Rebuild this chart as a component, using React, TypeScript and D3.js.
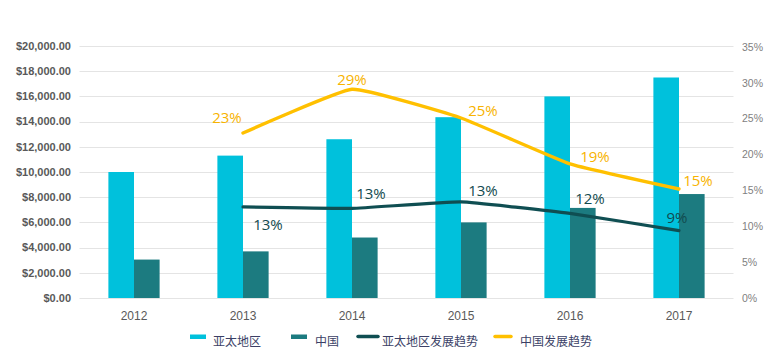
import React from "react";
import * as d3 from "d3";

const years = ["2012", "2013", "2014", "2015", "2016", "2017"];
const apacValues = [10000, 11300, 12600, 14350, 16000, 17500];
const chinaValues = [3050, 3700, 4800, 6000, 7150, 8250];
const apacGrowth = [null, 12.7, 12.5, 13.4, 11.8, 9.4];
const chinaGrowth = [null, 23, 29.1, 25.1, 18.7, 15.2];
const apacGrowthLabels = ["", "13%", "13%", "13%", "12%", "9%"];
const chinaGrowthLabels = ["", "23%", "29%", "25%", "19%", "15%"];
const leftTicks = [0, 2000, 4000, 6000, 8000, 10000, 12000, 14000, 16000, 18000, 20000];
const rightTicks = [0, 5, 10, 15, 20, 25, 30, 35];
const legendNames = ["亚太地区", "中国", "亚太地区发展趋势", "中国发展趋势"];

const C_APAC = "#00C1DC";
const C_CHINA = "#1C7B80";
const C_APAC_LINE = "#0F4E52";
const C_CHINA_LINE = "#FFC000";

export default function App() {
  const W = 775, H = 356;
  const x0 = 79.5, x1 = 733.5, yTop = 46, yBot = 298;
  const x = d3.scaleBand().domain(years).range([x0, x1]).paddingInner(0.53).paddingOuter(0.265);
  const y = d3.scaleLinear().domain([0, 20000]).range([yBot, yTop]);
  const y2 = d3.scaleLinear().domain([0, 35]).range([yBot, yTop + 1]);
  const bw = x.bandwidth() / 2;
  const cx = (yr: string) => (x(yr) as number) + x.bandwidth() / 2;
  const fmt = (v: number) => "$" + d3.format(",.2f")(v);
  const line = d3
    .line<[string, number | null]>()
    .defined((d) => d[1] != null)
    .x((d) => cx(d[0]))
    .y((d) => y2(d[1] as number))
    .curve(d3.curveCardinal.tension(0.65));

  const chinaLabelOff: [number, number][] = [[0, 0], [-16, -15], [0, -10], [22, -7], [25, -7], [19, -8]];
  const apacLabelOff: [number, number][] = [[0, 0], [25, 18], [19, -15], [22, -11], [20, -15], [-2, -13]];

  const font = "'Liberation Sans', Arial, sans-serif";
  const labelFont = "'Open Sans', 'Liberation Sans', sans-serif";

  const legendX = [190, 291, 358, 495];
  const legendTextX = [213, 315, 382, 520];
  const legendColors = [C_APAC, C_CHINA, C_APAC_LINE, C_CHINA_LINE];
  const swW = [16, 16, 20, 16];

  return (
    <svg width={W} height={H} style={{ position: "absolute", left: 0, top: 0, background: "#fff" }}>
      {leftTicks.map((t) => (
        <line key={"g" + t} x1={x0} x2={x1} y1={Math.round(y(t)) + 0.5} y2={Math.round(y(t)) + 0.5} stroke="#e4e4e4" strokeWidth={1} />
      ))}
      {leftTicks.map((t) => (
        <text key={"l" + t} x={71} y={y(t)} dy="0.35em" textAnchor="end" fontFamily={font} fontSize={11} fontWeight="bold" fill="#595959">
          {fmt(t)}
        </text>
      ))}
      {rightTicks.map((t) => (
        <text key={"r" + t} x={742} y={y2(t)} dy="0.35em" textAnchor="start" fontFamily={font} fontSize={10.5} fill="#7f7f7f">
          {t + "%"}
        </text>
      ))}
      {years.map((yr, i) => (
        <g key={"b" + yr}>
          <rect x={x(yr)} y={y(apacValues[i])} width={bw} height={yBot - y(apacValues[i])} fill={C_APAC} />
          <rect x={(x(yr) as number) + bw} y={y(chinaValues[i])} width={bw} height={yBot - y(chinaValues[i])} fill={C_CHINA} />
          <text x={cx(yr)} y={316} dy="0.35em" textAnchor="middle" fontFamily={font} fontSize={12} fill="#595959">
            {yr}
          </text>
        </g>
      ))}
      <path d={line(years.map((yr, i) => [yr, apacGrowth[i]])) || ""} fill="none" stroke={C_APAC_LINE} strokeWidth={3.2} strokeLinecap="round" />
      <path d={line(years.map((yr, i) => [yr, chinaGrowth[i]])) || ""} fill="none" stroke={C_CHINA_LINE} strokeWidth={3.4} strokeLinecap="round" />
      {years.map((yr, i) =>
        chinaGrowth[i] == null ? null : (
          <text key={"cl" + yr} x={cx(yr) + chinaLabelOff[i][0]} y={y2(chinaGrowth[i] as number) + chinaLabelOff[i][1]} dy="0.35em" textAnchor="middle" fontFamily={labelFont} fontSize={15} fill="#F7B300">
            {chinaGrowthLabels[i]}
          </text>
        )
      )}
      {years.map((yr, i) =>
        apacGrowth[i] == null ? null : (
          <text key={"al" + yr} x={cx(yr) + apacLabelOff[i][0]} y={y2(apacGrowth[i] as number) + apacLabelOff[i][1]} dy="0.35em" textAnchor="middle" fontFamily={labelFont} fontSize={15} fill="#124A4E">
            {apacGrowthLabels[i]}
          </text>
        )
      )}
      {legendNames.map((n, i) => (
        <g key={"lg" + n}>
          {i < 2 ? (
            <rect x={legendX[i]} y={334.5} width={swW[i]} height={4.5} fill={legendColors[i]} />
          ) : (
            <line x1={legendX[i]} x2={legendX[i] + swW[i]} y1={336.5} y2={336.5} stroke={legendColors[i]} strokeWidth={3.5} strokeLinecap="round" />
          )}
          <text x={legendTextX[i]} y={341.5} dy="0.35em" fontFamily="'Noto Sans CJK SC', sans-serif" fontSize={12} fill="#3b3f66">
            {n}
          </text>
        </g>
      ))}
    </svg>
  );
}
